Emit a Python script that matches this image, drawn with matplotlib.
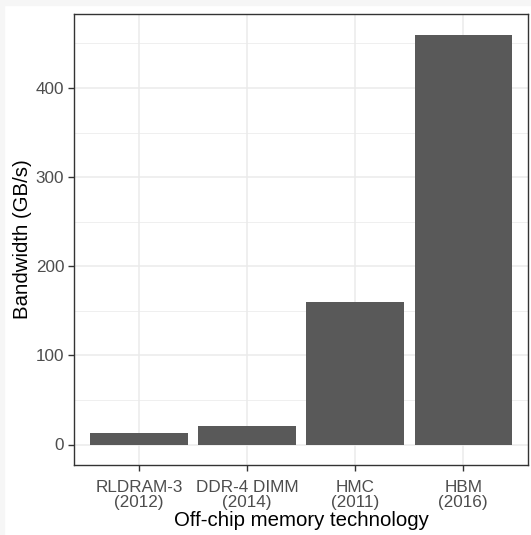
import matplotlib.pyplot as plt
import matplotlib.patches as mpatches
from matplotlib.ticker import MultipleLocator

# Data
technologies = ['RLDRAM-3\n(2012)', 'DDR-4 DIMM\n(2014)', 'HMC\n(2011)', 'HBM\n(2016)']
bandwidth = [12.8, 21, 160, 460]

plt.rcParams['font.family'] = ['Liberation Sans', 'DejaVu Sans']

fig = plt.figure(figsize=(5.31, 5.35), dpi=100, facecolor='white')
# thin light-gray strip at the top and left edges
fig.patches.append(mpatches.Rectangle((0, 0), 4 / 531, 1, transform=fig.transFigure,
                                      color='#f6f6f6', zorder=0))
fig.patches.append(mpatches.Rectangle((0, 1 - 5 / 535), 1, 5 / 535, transform=fig.transFigure,
                                      color='#f6f6f6', zorder=0))

ax = fig.add_axes([74 / 531, 70 / 535, 454 / 531, 451 / 535])

x = list(range(1, len(technologies) + 1))
ax.bar(x, bandwidth, width=0.9, color='#595959', zorder=2)

ax.set_xlim(0.4, 4.6)
ax.set_ylim(-23, 483)
ax.set_xticks(x)
ax.set_xticklabels(technologies, linespacing=0.95)
ax.yaxis.set_major_locator(MultipleLocator(100))
ax.yaxis.set_minor_locator(MultipleLocator(50))

ax.grid(which='major', color='#ebebeb', linewidth=1.1, zorder=0)
ax.grid(which='minor', axis='y', color='#ebebeb', linewidth=0.55, zorder=0)
ax.set_axisbelow(True)

for s in ax.spines.values():
    s.set_color('#333333')
    s.set_linewidth(1.0)

ax.tick_params(which='major', length=4, width=1.0, color='#333333',
               labelcolor='#4d4d4d', labelsize=12.3)
ax.tick_params(axis='x', pad=7)
ax.tick_params(axis='y', pad=3)
ax.tick_params(which='minor', length=0)

ax.set_xlabel('Off-chip memory technology', fontsize=14.7, color='black', labelpad=1)
ax.set_ylabel('Bandwidth (GB/s)', fontsize=14.7, color='black', labelpad=3)

fig.savefig('out.png', dpi=100, facecolor=fig.get_facecolor())
